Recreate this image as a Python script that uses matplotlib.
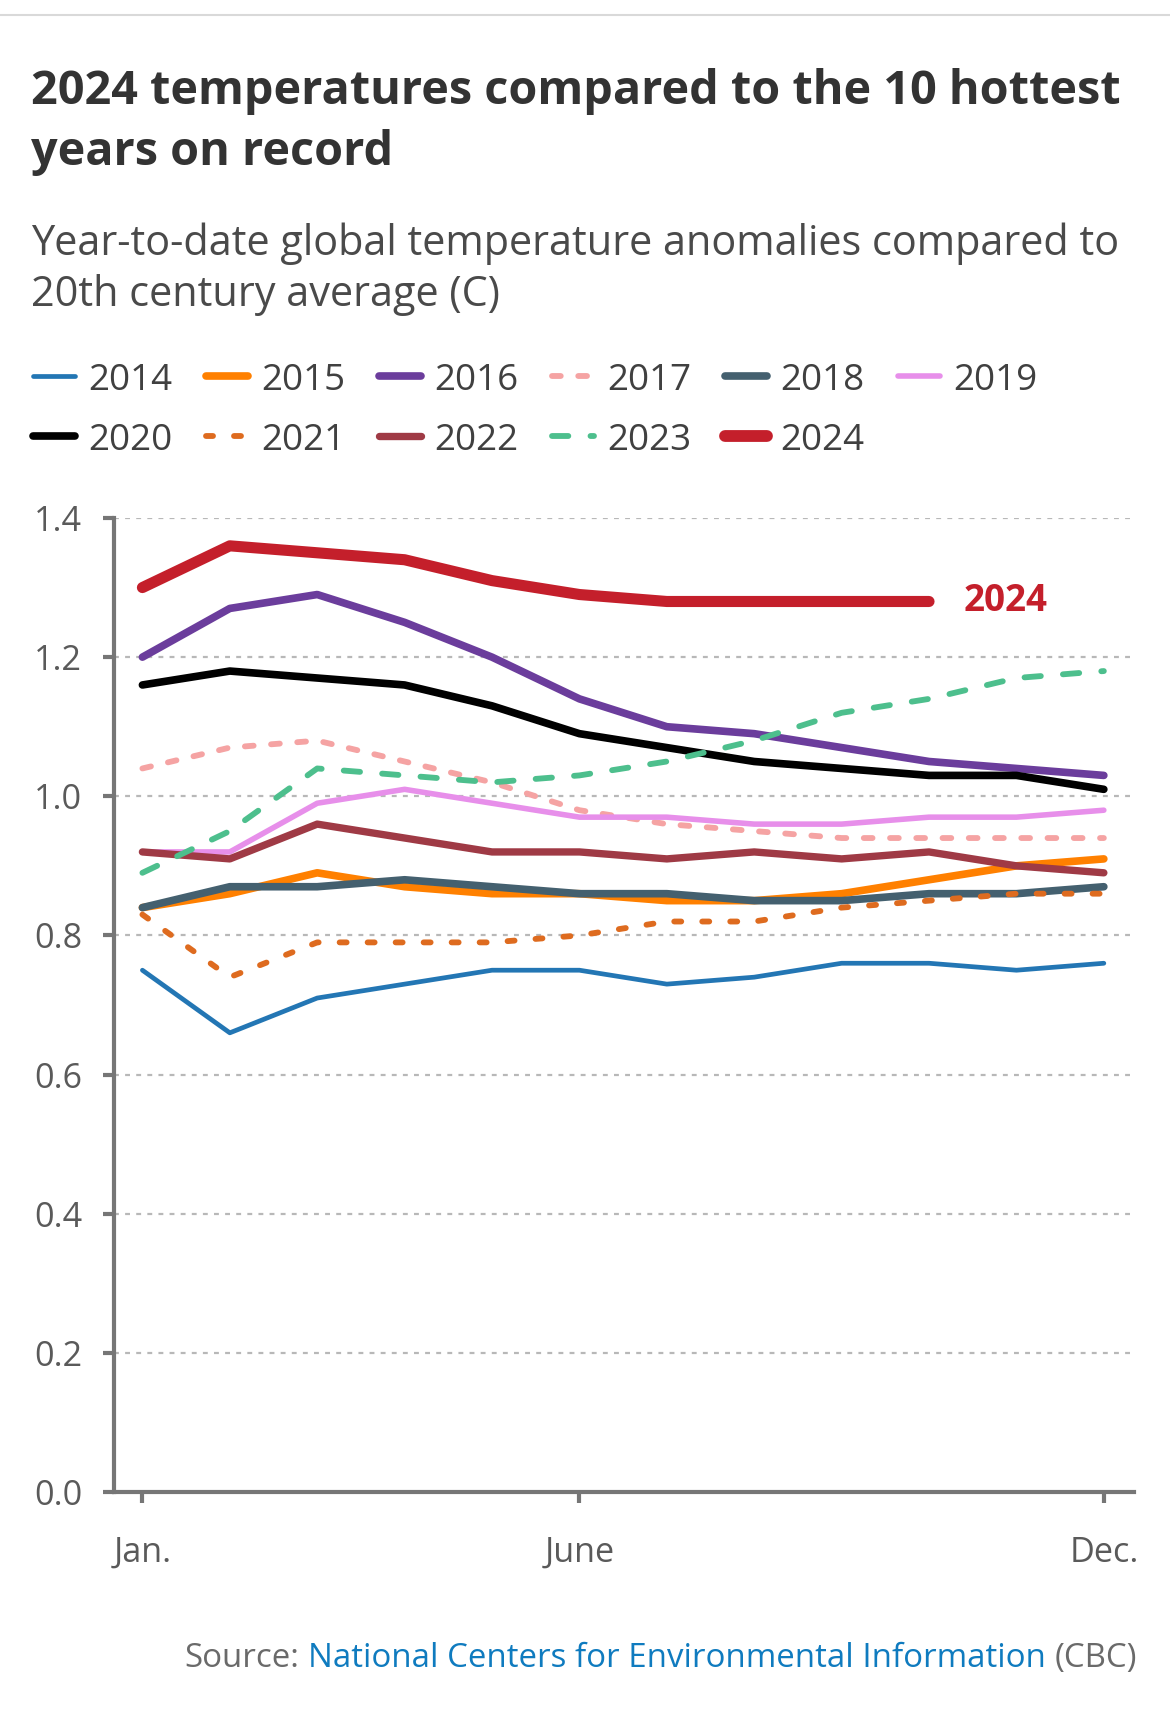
import matplotlib
matplotlib.use("Agg")
import matplotlib.pyplot as plt
from matplotlib.lines import Line2D
from matplotlib.transforms import IdentityTransform

plt.rcParams['font.family'] = ['Open Sans', 'DejaVu Sans']

# ---------------- data ----------------
months = ["Jan.", "Feb.", "Mar.", "Apr.", "May", "June",
          "July", "Aug.", "Sep.", "Oct.", "Nov.", "Dec."]
tick_labels = ["Jan.", "June", "Dec."]
years = ["2014", "2015", "2016", "2017", "2018", "2019",
         "2020", "2021", "2022", "2023", "2024"]

y2014 = [0.75, 0.66, 0.71, 0.73, 0.75, 0.75, 0.73, 0.74, 0.76, 0.76, 0.75, 0.76]
y2015 = [0.84, 0.86, 0.89, 0.87, 0.86, 0.86, 0.85, 0.85, 0.86, 0.88, 0.90, 0.91]
y2016 = [1.20, 1.27, 1.29, 1.25, 1.20, 1.14, 1.10, 1.09, 1.07, 1.05, 1.04, 1.03]
y2017 = [1.04, 1.07, 1.08, 1.05, 1.02, 0.98, 0.96, 0.95, 0.94, 0.94, 0.94, 0.94]
y2018 = [0.84, 0.87, 0.87, 0.88, 0.87, 0.86, 0.86, 0.85, 0.85, 0.86, 0.86, 0.87]
y2019 = [0.92, 0.92, 0.99, 1.01, 0.99, 0.97, 0.97, 0.96, 0.96, 0.97, 0.97, 0.98]
y2020 = [1.16, 1.18, 1.17, 1.16, 1.13, 1.09, 1.07, 1.05, 1.04, 1.03, 1.03, 1.01]
y2021 = [0.83, 0.74, 0.79, 0.79, 0.79, 0.80, 0.82, 0.82, 0.84, 0.85, 0.86, 0.86]
y2022 = [0.92, 0.91, 0.96, 0.94, 0.92, 0.92, 0.91, 0.92, 0.91, 0.92, 0.90, 0.89]
y2023 = [0.89, 0.95, 1.04, 1.03, 1.02, 1.03, 1.05, 1.08, 1.12, 1.14, 1.17, 1.18]
y2024 = [1.30, 1.36, 1.35, 1.34, 1.31, 1.29, 1.28, 1.28, 1.28, 1.28]

series = [y2014, y2015, y2016, y2017, y2018, y2019,
          y2020, y2021, y2022, y2023, y2024]

# ---------------- styles ----------------
colors = ["#2376b4", "#ff8000", "#6b3d9c", "#f5a3a3", "#44606f", "#e78fea",
          "#000000", "#de6b1f", "#9f3a45", "#4dbf8d", "#c41f2b"]
widths = [3.4, 5.5, 5.5, 4.2, 5.5, 4.0, 5.5, 4.2, 5.3, 4.2, 8.0]
dashes = [None, None, None, (1.5, 3.0), None, None,
          None, (1.2, 3.6), None, (2.8, 3.8), None]

W, H, DPI = 1170, 1718, 100
fig = plt.figure(figsize=(W / DPI, H / DPI), dpi=DPI)
fig.patch.set_facecolor("white")
rend = fig.canvas.get_renderer()


def fx(px):
    return px / W


def fy(py):
    return 1 - py / H


def fit_size(txt, target_px, weight="normal", base=20.0):
    t = fig.text(0, 0, txt, fontsize=base, fontweight=weight)
    w = t.get_window_extent(rend).width
    t.remove()
    return base * target_px / w


# top rule
fig.add_artist(Line2D([0, 1], [fy(15), fy(15)], color="#d9d9d9", lw=1.5,
                      transform=fig.transFigure))

# title & subtitle
title1 = "2024 temperatures compared to the 10 hottest"
title2 = "years on record"
sub1 = "Year-to-date global temperature anomalies compared to"
sub2 = "20th century average (C)"
ts = fit_size(title1, 1087, "bold")
ss = fit_size(sub1, 1091)
fig.text(fx(31), fy(104), title1, fontsize=ts, fontweight="bold",
         color="#333333", va="baseline", ha="left")
fig.text(fx(31), fy(165), title2, fontsize=ts, fontweight="bold",
         color="#333333", va="baseline", ha="left")
fig.text(fx(31), fy(255), sub1, fontsize=ss, color="#4a4a4a",
         va="baseline", ha="left")
fig.text(fx(31), fy(306), sub2, fontsize=ss, color="#4a4a4a",
         va="baseline", ha="left")

# legend (manual layout in figure space)
ls = fit_size("2014", 84)
for i, yr in enumerate(years):
    row, col = divmod(i, 6)
    x0 = 33 + col * 173
    yc = 376 + row * 60
    ln = Line2D([fx(x0), fx(x0 + 42)], [fy(yc), fy(yc)], color=colors[i],
                lw=min(widths[i], 5.8) if i != 10 else 8.5,
                solid_capstyle="round", dash_capstyle="round",
                transform=fig.transFigure)
    if dashes[i] is not None:
        ln.set_dashes(dashes[i])
    fig.add_artist(ln)
    fig.text(fx(x0 + 55), fy(yc), yr, fontsize=ls, color="#404040",
             va="center_baseline", ha="left")

# axes
ax = fig.add_axes([fx(114), fy(1492), fx(1134) - fx(114), fy(518) - fy(1492)])
x = list(range(len(months)))
for i, (yr, vals) in enumerate(zip(years, series)):
    ln, = ax.plot(x[:len(vals)], vals, color=colors[i], lw=widths[i],
                  solid_capstyle="round", solid_joinstyle="round",
                  dash_capstyle="round", clip_on=False, zorder=3 + i * 0.01)
    if dashes[i] is not None:
        ln.set_dashes(dashes[i])

lab_size = fit_size("2024", 84, "bold")
ax.annotate("2024", xy=(len(y2024) - 1, y2024[-1]), xytext=(25, 0),
            textcoords="offset points", fontsize=lab_size, fontweight="bold",
            color="#c41f2b", va="center", ha="left")

ax.set_xlim(-0.325, 11.345)
ax.set_ylim(0, 1.4)
ax.set_xticks([months.index(m) for m in tick_labels], tick_labels)
yt = [0.0, 0.2, 0.4, 0.6, 0.8, 1.0, 1.2, 1.4]
ax.set_yticks(yt, [f"{v:.1f}" for v in yt])

for s in ["top", "right"]:
    ax.spines[s].set_visible(False)
for s in ["left", "bottom"]:
    ax.spines[s].set_color("#767676")
    ax.spines[s].set_linewidth(3.0)
    ax.spines[s].set_zorder(2)

tk = fit_size("1.4", 48)
ax.tick_params(axis="y", length=8, width=3, color="#767676", pad=15,
               labelsize=tk, labelcolor="#5a5a5a")
ax.tick_params(axis="x", length=8, width=3, color="#767676", pad=23.5,
               labelsize=tk, labelcolor="#5a5a5a")
ax.yaxis.grid(True, color="#b8b8b8", lw=1.6, linestyle=(0, (2.2, 2.8)))
ax.set_axisbelow(True)
ax.set_facecolor("white")

# source line (right-aligned, multi-coloured)
parts = [("(CBC)", "#6a6a6a"),
         ("National Centers for Environmental Information", "#0f7bbf"),
         ("Source:", "#6a6a6a")]
src_size = fit_size("Source: National Centers for Environmental Information (CBC)", 948)
xr, yb = 1137, H - 1667
space = 0.27 * src_size * DPI / 72
for txt, col in parts:
    t = fig.text(xr, yb, txt, fontsize=src_size, color=col, ha="right",
                 va="baseline", transform=IdentityTransform())
    w = t.get_window_extent(rend).width
    xr = xr - w - space

fig.savefig("out.png", dpi=DPI, facecolor="white")
